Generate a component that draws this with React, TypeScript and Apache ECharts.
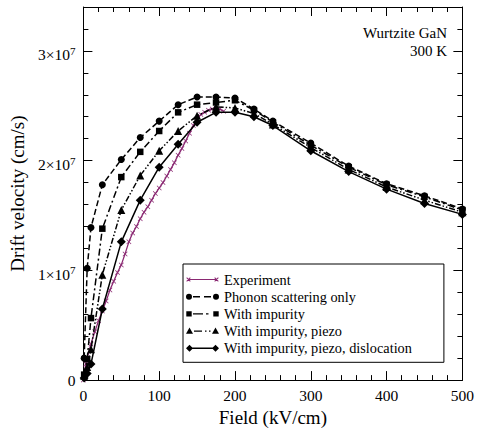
import React, { useEffect, useRef } from 'react';
import * as echarts from 'echarts';

const FONT = 'Liberation Serif';

// Field values (kV/cm) for the Monte Carlo model curves
const fieldModel = [1, 5, 10, 25, 50, 75, 100, 125, 150, 175, 200, 225, 250, 300, 350, 400, 450, 500];
// Drift velocity in units of 1e7 cm/s
const phonon = [0.2, 1.02, 1.39, 1.78, 2.01, 2.21, 2.36, 2.51, 2.58, 2.58, 2.57, 2.47, 2.36, 2.16, 1.95, 1.79, 1.68, 1.56];
const impurity = [0.05, 0.19, 0.565, 1.38, 1.85, 2.08, 2.27, 2.44, 2.51, 2.53, 2.55, 2.46, 2.35, 2.14, 1.94, 1.78, 1.67, 1.55];
const piezo = [0.04, 0.12, 0.28, 0.96, 1.55, 1.865, 2.09, 2.27, 2.41, 2.49, 2.48, 2.43, 2.33, 2.12, 1.92, 1.76, 1.64, 1.53];
const dislocation = [0.02, 0.06, 0.146, 0.648, 1.26, 1.64, 1.94, 2.15, 2.35, 2.44, 2.44, 2.4, 2.32, 2.09, 1.9, 1.74, 1.61, 1.51];

// Experimental data
const fieldExp = [0, 3, 5, 10, 15, 20, 25, 30, 35, 40, 45, 50, 55, 60, 65, 70, 75, 80, 85, 90, 95, 100, 105, 110, 115, 120, 125, 130, 135, 140, 145, 150, 155, 160, 165, 170, 175, 180, 185];
const velExp = [0, 0.146, 0.2, 0.33, 0.44, 0.54, 0.63, 0.72, 0.82, 0.9, 0.98, 1.05, 1.15, 1.26, 1.34, 1.4, 1.47, 1.53, 1.58, 1.64, 1.7, 1.75, 1.8, 1.86, 1.92, 1.98, 2.05, 2.11, 2.18, 2.25, 2.32, 2.38, 2.42, 2.44, 2.46, 2.47, 2.48, 2.47, 2.45];

const seriesNames = [
  'Experiment',
  'Phonon scattering only',
  'With impurity',
  'With impurity, piezo',
  'With impurity, piezo, dislocation',
];

const xTicks = { min: 0, max: 500, interval: 100 };
const yTicks = { min: 0, max: 3.4, interval: 1, minorInterval: 0.2 };
const annotation = ['Wurtzite GaN', '300 K'];

const PURPLE = '#8a2872';
const CROSS = 'path://M0,1L1,0L5,4L9,0L10,1L6,5L10,9L9,10L5,6L1,10L0,9L4,5Z';

const zip = (xs: number[], ys: number[]) => xs.map((x, i) => [x, ys[i]]);

// ---- legend icon path helpers (33 x 12 box) ----
const W = 33;
const H = 12;
const C = H / 2;
const corners = `M0,0h0.01v0.01h-0.01Z M${W - 0.01},${H - 0.01}h0.01v0.01h-0.01Z `;
const seg = (x1: number, x2: number, t = 1.4) => `M${x1},${C - t / 2}H${x2}V${C + t / 2}H${x1}Z `;
const circ = (cx: number, r: number) =>
  `M${cx - r},${C}a${r},${r} 0 1,0 ${2 * r},0a${r},${r} 0 1,0 ${-2 * r},0Z `;
const sq = (cx: number, s: number) => `M${cx - s},${C - s}h${2 * s}v${2 * s}h${-2 * s}Z `;
const tri = (cx: number, s: number) =>
  `M${cx},${C - s}L${cx + s},${C + s * 0.75}L${cx - s},${C + s * 0.75}Z `;
const dia = (cx: number, r: number) => `M${cx},${C - r}L${cx + r},${C}L${cx},${C + r}L${cx - r},${C}Z `;
const cross = (cx: number, r: number) => {
  const t = 0.7;
  return (
    `M${cx - r},${C - r + t}L${cx - r + t},${C - r}L${cx + r},${C + r - t}L${cx + r - t},${C + r}Z ` +
    `M${cx + r - t},${C - r}L${cx + r},${C - r + t}L${cx - r + t},${C + r}L${cx - r},${C + r - t}Z `
  );
};
const legendIcons = [
  'path://' + corners + cross(2.5, 2.2) + cross(30.5, 2.2) + seg(2.5, 30.5, 1.2),
  'path://' + corners + circ(3, 3) + circ(30, 3) + seg(7, 14) + seg(18, 25),
  'path://' + corners + sq(3, 2.7) + sq(30, 2.7) + seg(7, 17) + seg(20, 22.5),
  'path://' + corners + tri(3.5, 3.5) + tri(29.5, 3.5) + seg(8, 16) + seg(19, 20.5) + seg(23, 24.5),
  'path://' + corners + dia(3.5, 3.5) + dia(29.5, 3.5) + seg(3.5, 29.5),
];

export default function App() {
  const ref = useRef<HTMLDivElement>(null);
  useEffect(() => {
    document.body.style.margin = '0';
    const chart = echarts.init(ref.current!, null, { renderer: 'svg' });
    const black = '#000';
    const xBase = (pos: 'bottom' | 'top') => ({
      type: 'value',
      position: pos,
      min: xTicks.min,
      max: xTicks.max,
      interval: xTicks.interval,
      axisLine: { show: true, onZero: false, lineStyle: { color: black, width: 1 } },
      axisTick: { show: true, inside: true, length: 9, lineStyle: { color: black, width: 1 } },
      minorTick: { show: true, splitNumber: 5, length: 5, lineStyle: { color: black, width: 1 } },
      splitLine: { show: false },
      minorSplitLine: { show: false },
      axisLabel: {
        show: pos === 'bottom',
        color: black,
        fontSize: 15.5,
        fontFamily: FONT,
        margin: 7,
      },
      name: pos === 'bottom' ? 'Field (kV/cm)' : '',
      nameLocation: 'middle',
      nameGap: 21,
      nameTextStyle: { color: black, fontSize: 19, fontFamily: FONT },
    });
    const yBase = (pos: 'left' | 'right', major: boolean) => ({
      type: 'value',
      position: pos,
      min: yTicks.min,
      max: yTicks.max,
      interval: major ? yTicks.interval : yTicks.minorInterval,
      axisLine: { show: major, onZero: false, lineStyle: { color: black, width: 1 } },
      axisTick: { show: true, inside: true, length: major ? 9 : 5, lineStyle: { color: black, width: 1 } },
      splitLine: { show: false },
      axisLabel: {
        show: major && pos === 'left',
        showMaxLabel: false,
        color: black,
        fontSize: 15.5,
        fontFamily: FONT,
        margin: 8,
        formatter: (v: number) => (v === 0 ? '0' : `{a|${Math.round(v)}×10}{s|7}`),
        rich: {
          a: { fontSize: 15.5, fontFamily: FONT, color: black, lineHeight: 16, padding: [8, 0, 0, 0] },
          s: { fontSize: 11, fontFamily: FONT, color: black, lineHeight: 11 },
        },
      },
      name: major && pos === 'left' ? 'Drift velocity (cm/s)' : '',
      nameLocation: 'middle',
      nameGap: 52,
      nameTextStyle: { color: black, fontSize: 19, fontFamily: FONT },
    });

    const modelSeries = (name: string, data: number[], symbol: string, size: number, dash: any) => ({
      name,
      type: 'line',
      data: zip(fieldModel, data),
      symbol,
      symbolSize: size,
      showSymbol: true,
      lineStyle: { color: black, width: 1.5, type: dash },
      itemStyle: { color: black, borderWidth: 0 },
      z: 3,
    });

    chart.setOption({
      animation: false,
      backgroundColor: '#fff',
      textStyle: { fontFamily: FONT },
      grid: { left: 81, right: 13, top: 7, bottom: 46, containLabel: false },
      xAxis: [xBase('bottom'), xBase('top')],
      yAxis: [yBase('left', true), yBase('left', false), yBase('right', true), yBase('right', false)],
      legend: {
        show: true,
        orient: 'vertical',
        left: 183,
        top: 264,
        itemWidth: W,
        itemHeight: H,
        itemGap: 3.2,
        padding: [8.5, 32, 7, 3],
        borderColor: black,
        borderWidth: 1,
        backgroundColor: '#fff',
        itemStyle: { borderWidth: 0 },
        textStyle: { color: black, fontSize: 14.3, fontFamily: FONT },
        data: seriesNames.map((name, i) => ({ name, icon: legendIcons[i] })),
      },
      graphic: [
        {
          type: 'text',
          x: 447,
          y: 33,
          style: { text: annotation[0], align: 'right', verticalAlign: 'middle', font: `15px ${FONT}`, fill: black },
        },
        {
          type: 'text',
          x: 447,
          y: 51,
          style: { text: annotation[1], align: 'right', verticalAlign: 'middle', font: `15px ${FONT}`, fill: black },
        },
      ],
      series: [
        {
          name: seriesNames[0],
          type: 'line',
          data: zip(fieldExp, velExp),
          symbol: CROSS,
          symbolSize: 5,
          showSymbol: true,
          lineStyle: { color: PURPLE, width: 1.3 },
          itemStyle: { color: PURPLE, borderWidth: 0 },
          z: 2,
        },
        modelSeries(seriesNames[1], phonon, 'circle', 7, [6, 3]),
        modelSeries(seriesNames[2], impurity, 'rect', 6.5, [7, 3, 2, 3]),
        modelSeries(seriesNames[3], piezo, 'triangle', 8, [6, 2, 1.5, 2, 1.5, 2]),
        modelSeries(seriesNames[4], dislocation, 'diamond', 9, 'solid'),
      ],
    });
    return () => chart.dispose();
  }, []);
  return <div ref={ref} style={{ width: 477, height: 432 }} />;
}
